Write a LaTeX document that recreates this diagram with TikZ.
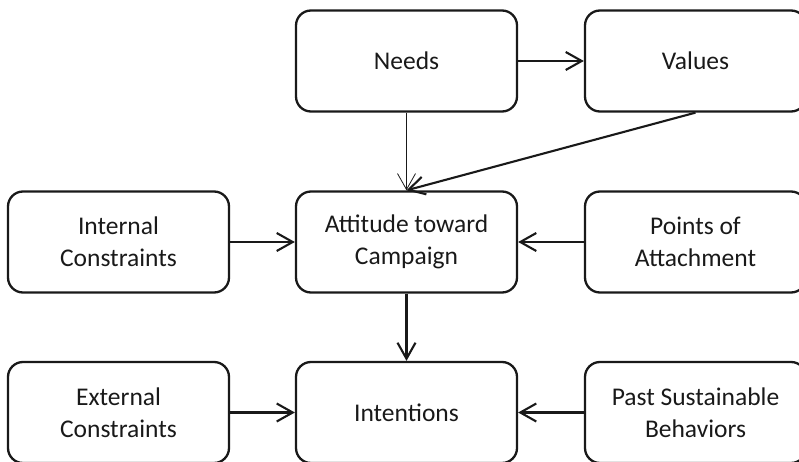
\documentclass[tikz,border=0pt]{standalone}
\usepackage{fontspec}
\setmainfont{Carlito}
\usetikzlibrary{arrows.meta}
\tikzset{>={Straight Barb[length=16pt,width=18pt]}}
\tikzset{stagebox/.style={draw=black!90, rounded corners=15pt, line width=2.3pt,
    minimum width=221pt, minimum height=101pt, align=center,
    font=\fontsize{25.5}{32}\selectfont, text=black!90}}

\begin{document}
\begin{tikzpicture}[x=1pt,y=-1pt]
        \useasboundingbox (0,0) rectangle (799,462);
        % top row
        \node[stagebox] (needs) at (406.5,61) {Needs};
        \node[stagebox] (values) at (695.5,61) {Values};
        % middle row
        \node[stagebox] (internal) at (118.5,242) {Internal\\Constraints};
        \node[stagebox] (attitude) at (406.5,242) {Attitude toward\\Campaign};
        \node[stagebox] (attach) at (695.5,242) {Points of\\Attachment};
        % bottom row
        \node[stagebox] (external) at (118.5,412.5) {External\\Constraints};
        \node[stagebox] (intentions) at (406.5,412.5) {Intentions};
        \node[stagebox] (past) at (695.5,412.5) {Past Sustainable\\Behaviors};
        % links
        \draw[->, line width=2.1pt, black!90](needs) -- (values);
        \draw[->, line width=0.8pt, black!90](needs) -- (attitude);
        \draw[->, line width=2.1pt, black!90](values.south) -- (attitude.north);
        \draw[->, line width=2.1pt, black!90](internal) -- (attitude);
        \draw[->, line width=2.1pt, black!90](attach) -- (attitude);
        \draw[->, line width=2.1pt, black!90](attitude) -- (intentions);
        \draw[->, line width=2.1pt, black!90](external) -- (intentions);
        \draw[->, line width=2.1pt, black!90](past) -- (intentions);
      \end{tikzpicture}
\end{document}
